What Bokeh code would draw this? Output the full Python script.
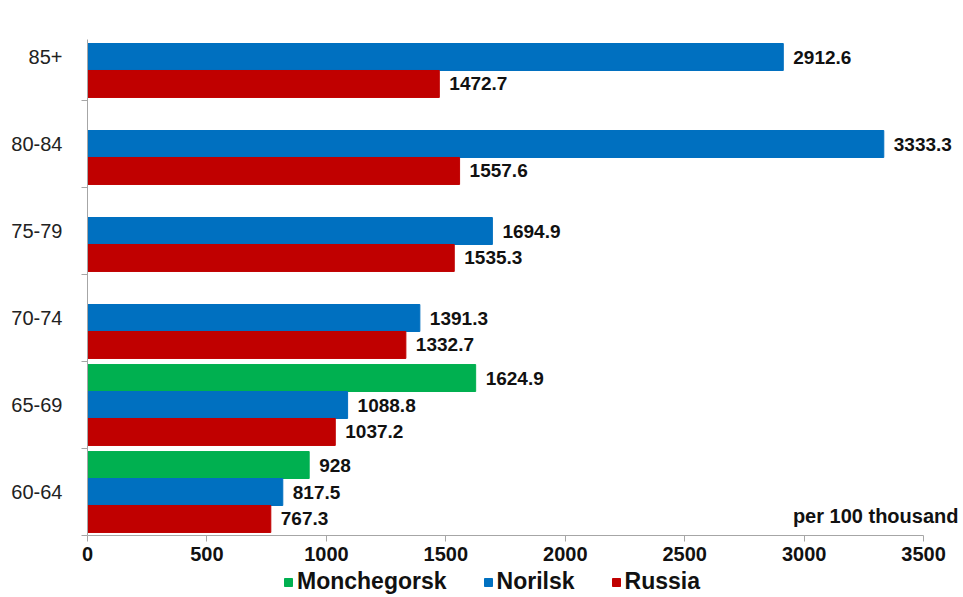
from bokeh.plotting import figure
from bokeh.layouts import column
from bokeh.models import (ColumnDataSource, Range1d, LinearAxis, FixedTicker, Legend, LegendItem)
from bokeh.core.properties import value
from bokeh.embed import file_html
from bokeh.resources import INLINE

categories = ["60-64", "65-69", "70-74", "75-79", "80-84", "85+"]
monchegorsk = [928, 1624.9, None, None, None, None]
norilsk = [817.5, 1088.8, 1391.3, 1694.9, 3333.3, 2912.6]
russia = [767.3, 1037.2, 1332.7, 1535.3, 1557.6, 1472.7]
x_ticks = [0, 500, 1000, 1500, 2000, 2500, 3000, 3500]
unit_note = "per 100 thousand"

series = [
    ("Monchegorsk", monchegorsk, "#00B050", 0.31),
    ("Norilsk", norilsk, "#0070C0", 0.0),
    ("Russia", russia, "#C00000", -0.31),
]

FONT = "Liberation Sans"
n = len(categories)
centers = [i + 0.5 for i in range(n)]

p = figure(width=963, height=569, y_range=Range1d(0, n),
           x_range=Range1d(0, 3667), output_backend="svg", toolbar_location=None,
           x_axis_location=None, y_axis_location=None,
           min_border_left=87, min_border_right=0, min_border_top=13, min_border_bottom=34)
p.outline_line_color = None
p.xgrid.visible = False
p.ygrid.visible = False
p.background_fill_color = "white"

# legend strip below the chart
lg = figure(width=963, height=28, output_backend="svg", toolbar_location=None,
            x_axis_location=None, y_axis_location=None, min_border=0,
            x_range=Range1d(0, 1), y_range=Range1d(0, 1))
lg.outline_line_color = None
lg.xgrid.visible = False
lg.ygrid.visible = False

legend_items = []
for name, vals, color, off in series:
    ys = [c + off for c, v in zip(centers, vals) if v is not None]
    vs = [v for v in vals if v is not None]
    src = ColumnDataSource(dict(y=ys, val=vs, lab=[f"{v:g}" for v in vs]))
    p.hbar(y="y", right="val", left=0, height=0.31,
           source=src, fill_color=color, line_color=color)
    p.text(x="val", y="y", text="lab", source=src,
           x_offset=10, text_align="left", text_baseline="middle",
           text_font=value(FONT), text_font_style="bold", text_font_size="19px",
           text_color="#111111")
    # proxy swatch renderer, kept outside the strip's visible range
    proxy = lg.hbar(y=[-5], right=[0.5], left=0, height=0.3, fill_color=color, line_color=color)
    legend_items.append(LegendItem(label=name, renderers=[proxy]))

note_src = ColumnDataSource(dict(x=[3646], y=[centers[0] - 0.28], t=[unit_note]))
p.text(x="x", y="y", text="t", source=note_src,
       text_align="right", text_baseline="middle", text_font=value(FONT),
       text_font_style="bold", text_font_size="20px", text_color="#111111")

# x axis
xa = LinearAxis(ticker=FixedTicker(ticks=x_ticks, minor_ticks=[]), bounds=(0, 3500))
xa.axis_line_color = "#A6A6A6"
xa.major_tick_line_color = "#A6A6A6"
xa.major_tick_out = 6
xa.major_tick_in = 0
xa.minor_tick_line_color = None
xa.major_label_text_font = FONT
xa.major_label_text_font_style = "bold"
xa.major_label_text_font_size = "20px"
xa.major_label_text_color = "#111111"
xa.major_label_standoff = 5
p.add_layout(xa, "below")

# category axis: labels at centers, boundary ticks as minor ticks
ca = LinearAxis(ticker=FixedTicker(ticks=centers, minor_ticks=list(range(n))),
                major_label_overrides={c: lab for c, lab in zip(centers, categories)},
                bounds=(0, 5.7))
ca.axis_line_color = "#A6A6A6"
ca.major_tick_line_color = None
ca.major_tick_out = 0
ca.major_tick_in = 0
ca.minor_tick_line_color = "#A6A6A6"
ca.minor_tick_out = 6
ca.minor_tick_in = 0
ca.major_label_text_font = FONT
ca.major_label_text_font_size = "20px"
ca.major_label_text_color = "#222222"
ca.major_label_standoff = 19
p.add_layout(ca, "left")

legend = Legend(items=legend_items, orientation="horizontal", location=(196, 2),
                label_text_font=FONT, label_text_font_style="bold",
                label_text_font_size="23px", label_text_color="#111111",
                glyph_width=10, glyph_height=10, label_standoff=4, spacing=36,
                padding=0, margin=0, border_line_color=None, background_fill_alpha=0,
                label_height=24)
lg.add_layout(legend, "center")

layout = column(p, lg, spacing=0)
open("out.html", "w").write(file_html(layout, INLINE))
